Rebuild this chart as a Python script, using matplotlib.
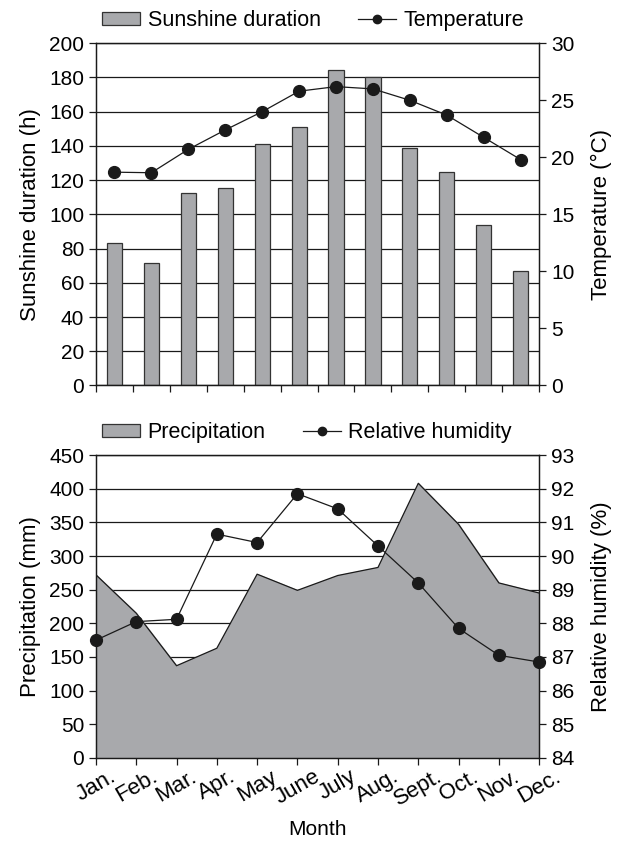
import numpy as np
import matplotlib
matplotlib.use("Agg")
import matplotlib.pyplot as plt
from matplotlib.lines import Line2D
from matplotlib.patches import Patch

plt.rcParams['font.family'] = ['Liberation Sans', 'DejaVu Sans']
plt.rcParams['font.size'] = 15

# data
months = ["Jan.", "Feb.", "Mar.", "Apr.", "May", "June", "July", "Aug.",
          "Sept.", "Oct.", "Nov.", "Dec."]
sunshine = [83, 71.5, 112.5, 115.5, 141, 151, 184.5, 180.5, 139, 125, 94, 67]
temperature = [18.7, 18.65, 20.7, 22.4, 24.0, 25.8, 26.2, 26.0, 25.0, 23.7, 21.75, 19.8]
precip = [272, 215, 137, 163, 273, 249, 271, 283, 408, 347, 260, 245]
humidity = [87.5, 88.05, 88.12, 90.65, 90.4, 91.85, 91.4, 90.3, 89.2, 87.85, 87.05, 86.85]

gray = "#a8a9ac"
ink = "#1a1a1a"
lab = 16

fig = plt.figure(figsize=(6.19, 8.42), dpi=100)

# ---- top: sunshine + temperature ----
ax1 = fig.add_axes([0.155, 0.5422, 0.716, 0.4064])
x = np.arange(12)
ax1.bar(x, sunshine, width=0.41, color=gray, edgecolor="#333333", linewidth=0.9, zorder=2)
ax1.set_xlim(-0.5, 11.5)
ax1.set_ylim(0, 200)
ax1.set_yticks(range(0, 201, 20))
ax1.set_xticks(np.arange(-0.5, 12, 1))
ax1.set_xticklabels([])
ax1.yaxis.grid(True, color=ink, linewidth=0.9, zorder=0)
ax1.set_axisbelow(True)
ax1.set_ylabel("Sunshine duration (h)", fontsize=lab, labelpad=6)
ax1.tick_params(direction="out", length=5, width=0.9, color=ink)

ax1r = ax1.twinx()
ax1r.plot(x, temperature, color=ink, linewidth=0.9, marker="o", markersize=8.5, zorder=3)
ax1r.set_ylim(0, 30)
ax1r.set_yticks(range(0, 31, 5))
ax1r.set_ylabel("Temperature (°C)", fontsize=lab, labelpad=12)
ax1r.tick_params(direction="out", length=5, width=0.9, color=ink)

for a in (ax1, ax1r):
    for s in a.spines.values():
        s.set_color(ink)
        s.set_linewidth(0.9)

h1 = [Patch(facecolor=gray, edgecolor="#333333", linewidth=0.9),
      Line2D([], [], color=ink, linewidth=0.9, marker="o", markersize=6)]
ax1.legend(h1, ["Sunshine duration", "Temperature"], ncol=2, frameon=False,
           loc="lower left", bbox_to_anchor=(-0.005, 1.01), borderaxespad=0,
           handlelength=1.75, handleheight=0.55, handletextpad=0.35, columnspacing=1.75,
           fontsize=15.5)

# ---- bottom: precipitation + humidity ----
ax2 = fig.add_axes([0.155, 0.0998, 0.716, 0.3598])
ax2.fill_between(x, precip, 0, color=gray, zorder=2)
ax2.plot(x, precip, color=ink, linewidth=0.9, zorder=2)
ax2.set_xlim(0, 11)
ax2.set_ylim(0, 450)
ax2.set_yticks(range(0, 451, 50))
ax2.set_xticks(x)
ax2.set_xticklabels(months, rotation=30, ha="center", fontsize=16)
ax2.yaxis.grid(True, color=ink, linewidth=0.9, zorder=0)
ax2.set_axisbelow(True)
ax2.set_ylabel("Precipitation (mm)", fontsize=lab, labelpad=6)
ax2.set_xlabel("Month", labelpad=7)
ax2.tick_params(direction="out", length=5, width=0.9, color=ink)
ax2.tick_params(axis="x", pad=1)

ax2r = ax2.twinx()
ax2r.plot(x, humidity, color=ink, linewidth=0.9, marker="o", markersize=8.5,
          zorder=3, clip_on=False)
ax2r.set_ylim(84, 93)
ax2r.set_yticks(range(84, 94))
ax2r.set_ylabel("Relative humidity (%)", fontsize=lab, labelpad=12)
ax2r.tick_params(direction="out", length=5, width=0.9, color=ink)

for a in (ax2, ax2r):
    for s in a.spines.values():
        s.set_color(ink)
        s.set_linewidth(0.9)

h2 = [Patch(facecolor=gray, edgecolor="#333333", linewidth=0.9),
      Line2D([], [], color=ink, linewidth=0.9, marker="o", markersize=6)]
ax2.legend(h2, ["Precipitation", "Relative humidity"], ncol=2, frameon=False,
           loc="lower left", bbox_to_anchor=(-0.005, 1.01), borderaxespad=0,
           handlelength=1.75, handleheight=0.55, handletextpad=0.35, columnspacing=1.75,
           fontsize=15.5)

fig.savefig("out.png", dpi=100)
